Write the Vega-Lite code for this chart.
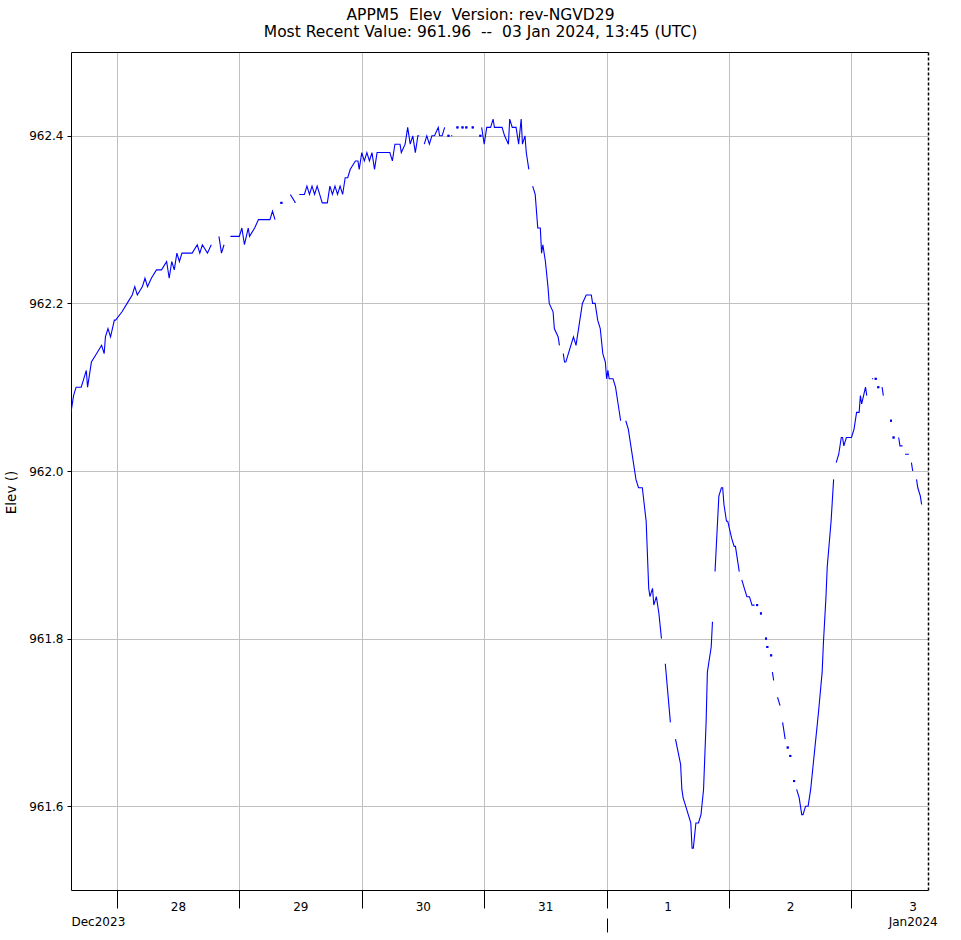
{
"$schema": "https://vega.github.io/schema/vega-lite/v6.json",
"width": 857, "height": 838,
"autosize": {"type": "none"},
"padding": {"left": 71, "top": 52, "right": 33, "bottom": 50},
"background": "white",
"config": {"view": {"stroke": null}, "font": "DejaVu Sans"},
"title": {"text": ["APPM5\u00a0 Elev\u00a0 Version: rev-NGVD29", "Most Recent Value: 961.96\u00a0 --\u00a0 03 Jan 2024, 13:45 (UTC)"], "font": "DejaVu Sans", "fontSize": 15.5, "fontWeight": "normal", "lineHeight": 17, "anchor": "middle", "dx": -19, "offset": 12, "color": "black"},
"datasets": {
"series": [
{"t":"2023-12-27T15:00","v":962.07},{"t":"2023-12-27T15:30","v":962.09},{"t":"2023-12-27T16:00","v":962.10},{"t":"2023-12-27T17:00","v":962.10},{"t":"2023-12-27T17:30","v":962.11},{"t":"2023-12-27T18:00","v":962.12},{"t":"2023-12-27T18:15","v":962.10},{"t":"2023-12-27T19:00","v":962.13},{"t":"2023-12-27T20:00","v":962.14},{"t":"2023-12-27T21:00","v":962.15},{"t":"2023-12-27T21:30","v":962.14},{"t":"2023-12-27T21:45","v":962.16},{"t":"2023-12-27T22:15","v":962.17},{"t":"2023-12-27T22:45","v":962.16},{"t":"2023-12-27T23:30","v":962.18},{"t":"2023-12-27T23:45","v":962.18},
{"t":"2023-12-28T01:00","v":962.19},{"t":"2023-12-28T02:00","v":962.20},{"t":"2023-12-28T03:00","v":962.21},{"t":"2023-12-28T03:30","v":962.22},{"t":"2023-12-28T04:00","v":962.21},{"t":"2023-12-28T05:00","v":962.22},{"t":"2023-12-28T05:30","v":962.23},{"t":"2023-12-28T06:00","v":962.22},{"t":"2023-12-28T06:45","v":962.23},{"t":"2023-12-28T07:45","v":962.24},{"t":"2023-12-28T08:45","v":962.24},{"t":"2023-12-28T09:45","v":962.25},{"t":"2023-12-28T10:15","v":962.23},{"t":"2023-12-28T10:45","v":962.25},{"t":"2023-12-28T11:15","v":962.24},{"t":"2023-12-28T11:45","v":962.26},{"t":"2023-12-28T12:15","v":962.25},{"t":"2023-12-28T12:45","v":962.26},{"t":"2023-12-28T13:45","v":962.26},{"t":"2023-12-28T14:45","v":962.26},{"t":"2023-12-28T15:45","v":962.27},{"t":"2023-12-28T16:15","v":962.26},{"t":"2023-12-28T16:45","v":962.27},{"t":"2023-12-28T17:45","v":962.26},{"t":"2023-12-28T18:30","v":962.27},{"t":"2023-12-28T19:00","v":null},{"t":"2023-12-28T20:00","v":962.28},{"t":"2023-12-28T20:30","v":962.26},{"t":"2023-12-28T21:00","v":962.27},{"t":"2023-12-28T21:30","v":null},{"t":"2023-12-28T22:15","v":962.28},{"t":"2023-12-28T23:15","v":962.28},
{"t":"2023-12-29T00:00","v":962.28},{"t":"2023-12-29T00:30","v":962.29},{"t":"2023-12-29T01:00","v":962.27},{"t":"2023-12-29T01:45","v":962.29},{"t":"2023-12-29T02:00","v":962.28},{"t":"2023-12-29T03:00","v":962.29},{"t":"2023-12-29T03:45","v":962.30},{"t":"2023-12-29T05:00","v":962.30},{"t":"2023-12-29T06:00","v":962.30},{"t":"2023-12-29T06:30","v":962.31},{"t":"2023-12-29T07:00","v":962.30},{"t":"2023-12-29T07:30","v":null},{"t":"2023-12-29T10:00","v":962.33},{"t":"2023-12-29T11:00","v":962.32},{"t":"2023-12-29T11:30","v":null},{"t":"2023-12-29T11:45","v":962.33},{"t":"2023-12-29T12:45","v":962.33},{"t":"2023-12-29T13:15","v":962.34},{"t":"2023-12-29T13:45","v":962.33},{"t":"2023-12-29T14:15","v":962.34},{"t":"2023-12-29T14:45","v":962.33},{"t":"2023-12-29T15:15","v":962.34},{"t":"2023-12-29T15:45","v":962.33},{"t":"2023-12-29T16:15","v":962.32},{"t":"2023-12-29T16:45","v":962.32},{"t":"2023-12-29T17:15","v":962.32},{"t":"2023-12-29T17:45","v":962.34},{"t":"2023-12-29T18:15","v":962.33},{"t":"2023-12-29T18:45","v":962.34},{"t":"2023-12-29T19:15","v":962.33},{"t":"2023-12-29T19:45","v":962.34},{"t":"2023-12-29T20:15","v":962.33},{"t":"2023-12-29T20:45","v":962.35},{"t":"2023-12-29T21:15","v":962.35},{"t":"2023-12-29T21:45","v":962.36},{"t":"2023-12-29T22:45","v":962.37},{"t":"2023-12-29T23:15","v":962.37},{"t":"2023-12-29T23:30","v":962.36},
{"t":"2023-12-30T00:00","v":962.38},{"t":"2023-12-30T00:30","v":962.37},{"t":"2023-12-30T01:00","v":962.38},{"t":"2023-12-30T01:30","v":962.37},{"t":"2023-12-30T02:00","v":962.38},{"t":"2023-12-30T02:30","v":962.36},{"t":"2023-12-30T03:00","v":962.38},{"t":"2023-12-30T03:30","v":962.38},{"t":"2023-12-30T04:30","v":962.38},{"t":"2023-12-30T05:30","v":962.38},{"t":"2023-12-30T06:00","v":962.37},{"t":"2023-12-30T06:30","v":962.39},{"t":"2023-12-30T07:30","v":962.39},{"t":"2023-12-30T07:45","v":962.38},{"t":"2023-12-30T08:30","v":962.39},{"t":"2023-12-30T09:00","v":962.41},{"t":"2023-12-30T09:30","v":962.39},{"t":"2023-12-30T10:00","v":962.40},{"t":"2023-12-30T10:30","v":962.38},{"t":"2023-12-30T11:00","v":962.40},{"t":"2023-12-30T11:15","v":962.40},{"t":"2023-12-30T11:45","v":null},{"t":"2023-12-30T12:15","v":962.39},{"t":"2023-12-30T12:45","v":962.40},{"t":"2023-12-30T13:15","v":962.39},{"t":"2023-12-30T13:45","v":962.40},{"t":"2023-12-30T14:15","v":962.40},{"t":"2023-12-30T15:00","v":962.41},{"t":"2023-12-30T15:15","v":962.40},{"t":"2023-12-30T15:45","v":962.40},{"t":"2023-12-30T16:15","v":962.41},{"t":"2023-12-30T16:45","v":null},{"t":"2023-12-30T17:30","v":962.40},{"t":"2023-12-30T17:45","v":962.40},{"t":"2023-12-30T18:15","v":null},{"t":"2023-12-30T23:30","v":962.41},
{"t":"2023-12-31T00:00","v":962.39},{"t":"2023-12-31T00:30","v":962.41},{"t":"2023-12-31T01:15","v":962.41},{"t":"2023-12-31T01:45","v":962.42},{"t":"2023-12-31T02:00","v":962.41},{"t":"2023-12-31T03:30","v":962.41},{"t":"2023-12-31T04:00","v":962.40},{"t":"2023-12-31T04:45","v":962.39},{"t":"2023-12-31T05:00","v":962.42},{"t":"2023-12-31T05:30","v":962.41},{"t":"2023-12-31T06:15","v":962.41},{"t":"2023-12-31T06:45","v":962.39},{"t":"2023-12-31T07:15","v":962.42},{"t":"2023-12-31T07:30","v":962.39},{"t":"2023-12-31T08:00","v":962.40},{"t":"2023-12-31T08:15","v":962.38},{"t":"2023-12-31T08:45","v":962.36},{"t":"2023-12-31T09:00","v":null},{"t":"2023-12-31T09:30","v":962.34},{"t":"2023-12-31T10:00","v":962.33},{"t":"2023-12-31T10:30","v":962.29},{"t":"2023-12-31T11:00","v":962.29},{"t":"2023-12-31T11:15","v":962.26},{"t":"2023-12-31T11:30","v":962.27},{"t":"2023-12-31T12:00","v":962.25},{"t":"2023-12-31T12:30","v":962.22},{"t":"2023-12-31T12:45","v":962.20},{"t":"2023-12-31T13:30","v":962.19},{"t":"2023-12-31T13:45","v":962.17},{"t":"2023-12-31T14:30","v":962.16},{"t":"2023-12-31T14:45","v":962.15},{"t":"2023-12-31T15:00","v":null},{"t":"2023-12-31T15:30","v":962.14},{"t":"2023-12-31T15:45","v":962.13},{"t":"2023-12-31T16:00","v":962.13},{"t":"2023-12-31T16:30","v":962.14},{"t":"2023-12-31T17:30","v":962.16},{"t":"2023-12-31T18:00","v":962.15},{"t":"2023-12-31T18:45","v":962.18},{"t":"2023-12-31T19:15","v":962.20},{"t":"2023-12-31T20:00","v":962.21},{"t":"2023-12-31T21:00","v":962.21},{"t":"2023-12-31T21:15","v":962.20},{"t":"2023-12-31T21:45","v":962.20},{"t":"2023-12-31T22:15","v":962.18},{"t":"2023-12-31T22:45","v":962.17},{"t":"2023-12-31T23:15","v":962.14},{"t":"2023-12-31T23:45","v":962.13},
{"t":"2024-01-01T00:00","v":962.11},{"t":"2024-01-01T00:15","v":962.12},{"t":"2024-01-01T00:30","v":962.11},{"t":"2024-01-01T01:15","v":962.11},{"t":"2024-01-01T01:45","v":962.10},{"t":"2024-01-01T02:15","v":962.08},{"t":"2024-01-01T02:45","v":962.06},{"t":"2024-01-01T03:15","v":null},{"t":"2024-01-01T03:45","v":962.06},{"t":"2024-01-01T04:15","v":962.05},{"t":"2024-01-01T04:45","v":962.03},{"t":"2024-01-01T05:45","v":961.99},{"t":"2024-01-01T06:15","v":961.98},{"t":"2024-01-01T07:00","v":961.98},{"t":"2024-01-01T07:45","v":961.94},{"t":"2024-01-01T08:15","v":961.86},{"t":"2024-01-01T08:30","v":961.85},{"t":"2024-01-01T09:00","v":961.86},{"t":"2024-01-01T09:15","v":961.84},{"t":"2024-01-01T09:45","v":961.85},{"t":"2024-01-01T10:15","v":961.83},{"t":"2024-01-01T10:45","v":961.80},{"t":"2024-01-01T11:15","v":null},{"t":"2024-01-01T11:30","v":961.77},{"t":"2024-01-01T12:30","v":961.70},{"t":"2024-01-01T12:45","v":null},{"t":"2024-01-01T13:30","v":961.68},{"t":"2024-01-01T14:30","v":961.65},{"t":"2024-01-01T14:45","v":961.62},{"t":"2024-01-01T15:00","v":961.61},{"t":"2024-01-01T15:30","v":961.60},{"t":"2024-01-01T16:30","v":961.58},{"t":"2024-01-01T16:45","v":961.55},{"t":"2024-01-01T17:00","v":961.55},{"t":"2024-01-01T17:30","v":961.58},{"t":"2024-01-01T18:00","v":961.58},{"t":"2024-01-01T18:30","v":961.59},{"t":"2024-01-01T19:00","v":961.62},{"t":"2024-01-01T19:30","v":961.70},{"t":"2024-01-01T19:45","v":961.76},{"t":"2024-01-01T20:30","v":961.79},{"t":"2024-01-01T20:45","v":961.82},{"t":"2024-01-01T21:00","v":null},{"t":"2024-01-01T21:15","v":961.88},{"t":"2024-01-01T21:30","v":961.91},{"t":"2024-01-01T22:00","v":961.97},{"t":"2024-01-01T22:30","v":961.98},{"t":"2024-01-01T22:45","v":961.98},{"t":"2024-01-01T23:00","v":961.96},{"t":"2024-01-01T23:30","v":961.94},{"t":"2024-01-01T23:45","v":961.94},
{"t":"2024-01-02T00:30","v":961.92},{"t":"2024-01-02T01:00","v":961.91},{"t":"2024-01-02T01:15","v":961.91},{"t":"2024-01-02T02:00","v":961.88},{"t":"2024-01-02T02:15","v":null},{"t":"2024-01-02T02:30","v":961.87},{"t":"2024-01-02T03:00","v":961.86},{"t":"2024-01-02T03:30","v":961.85},{"t":"2024-01-02T04:00","v":961.85},{"t":"2024-01-02T04:30","v":961.84},{"t":"2024-01-02T05:00","v":961.84},{"t":"2024-01-02T05:15","v":null},{"t":"2024-01-02T08:30","v":961.76},{"t":"2024-01-02T08:45","v":961.75},{"t":"2024-01-02T09:15","v":null},{"t":"2024-01-02T09:30","v":961.73},{"t":"2024-01-02T10:00","v":961.72},{"t":"2024-01-02T10:15","v":null},{"t":"2024-01-02T10:30","v":961.70},{"t":"2024-01-02T11:00","v":961.68},{"t":"2024-01-02T11:15","v":null},{"t":"2024-01-02T13:15","v":961.62},{"t":"2024-01-02T13:45","v":961.61},{"t":"2024-01-02T14:15","v":961.59},{"t":"2024-01-02T14:30","v":961.59},{"t":"2024-01-02T15:00","v":961.60},{"t":"2024-01-02T15:30","v":961.60},{"t":"2024-01-02T16:00","v":961.62},{"t":"2024-01-02T16:30","v":961.65},{"t":"2024-01-02T17:30","v":961.71},{"t":"2024-01-02T18:15","v":961.76},{"t":"2024-01-02T18:30","v":961.795},{"t":"2024-01-02T19:00","v":961.85},{"t":"2024-01-02T19:15","v":961.886},{"t":"2024-01-02T20:00","v":961.94},{"t":"2024-01-02T20:15","v":961.965},{"t":"2024-01-02T20:30","v":961.99},{"t":"2024-01-02T20:45","v":null},{"t":"2024-01-02T21:00","v":962.01},{"t":"2024-01-02T21:30","v":962.02},{"t":"2024-01-02T22:00","v":962.04},{"t":"2024-01-02T22:15","v":962.04},{"t":"2024-01-02T22:30","v":962.03},{"t":"2024-01-02T23:00","v":962.04},{"t":"2024-01-02T23:30","v":962.04},
{"t":"2024-01-03T00:00","v":962.04},{"t":"2024-01-03T00:30","v":962.05},{"t":"2024-01-03T01:00","v":962.07},{"t":"2024-01-03T01:30","v":962.07},{"t":"2024-01-03T01:45","v":962.09},{"t":"2024-01-03T02:00","v":962.08},{"t":"2024-01-03T02:45","v":962.10},{"t":"2024-01-03T03:00","v":962.09},{"t":"2024-01-03T03:30","v":null},{"t":"2024-01-03T04:00","v":962.11},{"t":"2024-01-03T04:15","v":962.11},{"t":"2024-01-03T04:30","v":null},{"t":"2024-01-03T06:00","v":962.10},{"t":"2024-01-03T06:15","v":962.09},{"t":"2024-01-03T06:30","v":null},{"t":"2024-01-03T09:15","v":962.04},{"t":"2024-01-03T09:30","v":962.03},{"t":"2024-01-03T10:00","v":962.03},{"t":"2024-01-03T10:15","v":null},{"t":"2024-01-03T10:30","v":962.02},{"t":"2024-01-03T11:15","v":962.02},{"t":"2024-01-03T11:30","v":null},{"t":"2024-01-03T11:45","v":962.01},{"t":"2024-01-03T12:00","v":962.00},{"t":"2024-01-03T12:15","v":null},{"t":"2024-01-03T12:45","v":961.99},{"t":"2024-01-03T13:00","v":961.98},{"t":"2024-01-03T13:30","v":961.97},{"t":"2024-01-03T13:45","v":961.96}
],
"single": [
{"t":"2023-12-29T08:15","v":962.32},{"t":"2023-12-30T17:00","v":962.40},{"t":"2023-12-30T18:45","v":962.41},{"t":"2023-12-30T19:45","v":962.41},{"t":"2023-12-30T20:30","v":962.41},{"t":"2023-12-30T21:45","v":962.41},{"t":"2023-12-30T23:15","v":962.40},{"t":"2024-01-02T05:30","v":961.84},{"t":"2024-01-02T06:15","v":961.83},{"t":"2024-01-02T07:15","v":961.80},{"t":"2024-01-02T07:30","v":961.79},{"t":"2024-01-02T08:15","v":961.78},{"t":"2024-01-02T11:30","v":961.67},{"t":"2024-01-02T12:00","v":961.66},{"t":"2024-01-02T12:45","v":961.63},{"t":"2024-01-03T04:45","v":962.11},{"t":"2024-01-03T05:15","v":962.10},{"t":"2024-01-03T07:45","v":962.06},{"t":"2024-01-03T08:15","v":962.04}
]
},
"layer": [
{"data": {"name": "series"},
 "mark": {"type": "line", "color": "#0000ff", "strokeWidth": 1.1, "clip": true, "invalid": "break-paths-show-domains"},
 "encoding": {
  "x": {"field": "t", "type": "temporal",
        "scale": {"domain": [{"year":2023,"month":12,"date":27,"hours":15},{"year":2024,"month":1,"date":3,"hours":15}], "nice": false},
        "axis": {"orient": "bottom", "title": null,
                 "values": [{"year":2023,"month":12,"date":28},{"year":2023,"month":12,"date":29},{"year":2023,"month":12,"date":30},{"year":2023,"month":12,"date":31},{"year":2024,"month":1,"date":1},{"year":2024,"month":1,"date":2},{"year":2024,"month":1,"date":3}],
                 "format": "%-d", "labelOffset": 61, "tickSize": 18, "tickColor": "black", "domainColor": "black",
                 "labelColor": "black", "labelFont": "DejaVu Sans", "labelFontSize": 12, "labelPadding": -7,
                 "labelFlush": false, "labelOverlap": false, "labelBound": false,
                 "grid": true, "gridColor": "#c0c0c0", "gridWidth": 1}},
  "y": {"field": "v", "type": "quantitative",
        "scale": {"domain": [961.5, 962.5], "nice": false, "zero": false},
        "axis": {"orient": "left", "values": [961.6, 961.8, 962.0, 962.2, 962.4], "format": ".1f",
                 "tickSize": 4, "tickColor": "black", "domainColor": "black", "labelColor": "black",
                 "labelFont": "DejaVu Sans", "labelFontSize": 12, "labelPadding": 4,
                 "grid": true, "gridColor": "#c0c0c0", "gridWidth": 1,
                 "title": "Elev ()", "titleFont": "DejaVu Sans", "titleFontSize": 13.5, "titleFontWeight": "normal",
                 "titleColor": "black", "titlePadding": 10, "titleY": 440}}
 }},
{"data": {"name": "single"},
 "mark": {"type": "square", "size": 4, "color": "#0000ff", "opacity": 1, "clip": true},
 "encoding": {
  "x": {"field": "t", "type": "temporal",
        "scale": {"domain": [{"year":2023,"month":12,"date":27,"hours":15},{"year":2024,"month":1,"date":3,"hours":15}], "nice": false},
        "axis": {"orient": "bottom", "title": null, "offset": 28, "domain": false, "grid": false,
                 "values": [{"year":2023,"month":12,"date":27,"hours":15},{"year":2024,"month":1,"date":1},{"year":2024,"month":1,"date":3,"hours":12}],
                 "labelExpr": "date(datum.value) == 27 ? 'Dec2023' : (date(datum.value) == 3 ? 'Jan2024' : '')",
                 "labelAlign": {"expr": "date(datum.value) == 27 ? 'left' : 'center'"},
                 "tickOpacity": {"expr": "date(datum.value) == 1 ? 1 : 0"},
                 "tickSize": 14, "tickColor": "black", "labelColor": "black", "labelFont": "DejaVu Sans", "labelFontSize": 12,
                 "labelPadding": -16, "labelFlush": false, "labelOverlap": false, "labelBound": false}},
  "y": {"field": "v", "type": "quantitative",
        "scale": {"domain": [961.5, 962.5], "nice": false, "zero": false},
        "axis": {"orient": "right", "title": null, "ticks": false, "labels": false, "grid": false,
                 "domain": true, "domainColor": "black", "domainDash": [3, 2], "domainWidth": 1.5}}
 }},
{"data": {"name": "single"},
 "mark": {"type": "square", "size": 4, "color": "#0000ff", "opacity": 1, "clip": true},
 "encoding": {
  "x": {"field": "t", "type": "temporal",
        "scale": {"domain": [{"year":2023,"month":12,"date":27,"hours":15},{"year":2024,"month":1,"date":3,"hours":15}], "nice": false},
        "axis": {"orient": "top", "title": null, "ticks": false, "labels": false, "grid": false,
                 "domain": true, "domainColor": "black", "domainWidth": 1}},
  "y": {"field": "v", "type": "quantitative",
        "scale": {"domain": [961.5, 962.5], "nice": false, "zero": false}, "axis": null}
 }}
],
"resolve": {"axis": {"x": "independent", "y": "independent"}}
}
